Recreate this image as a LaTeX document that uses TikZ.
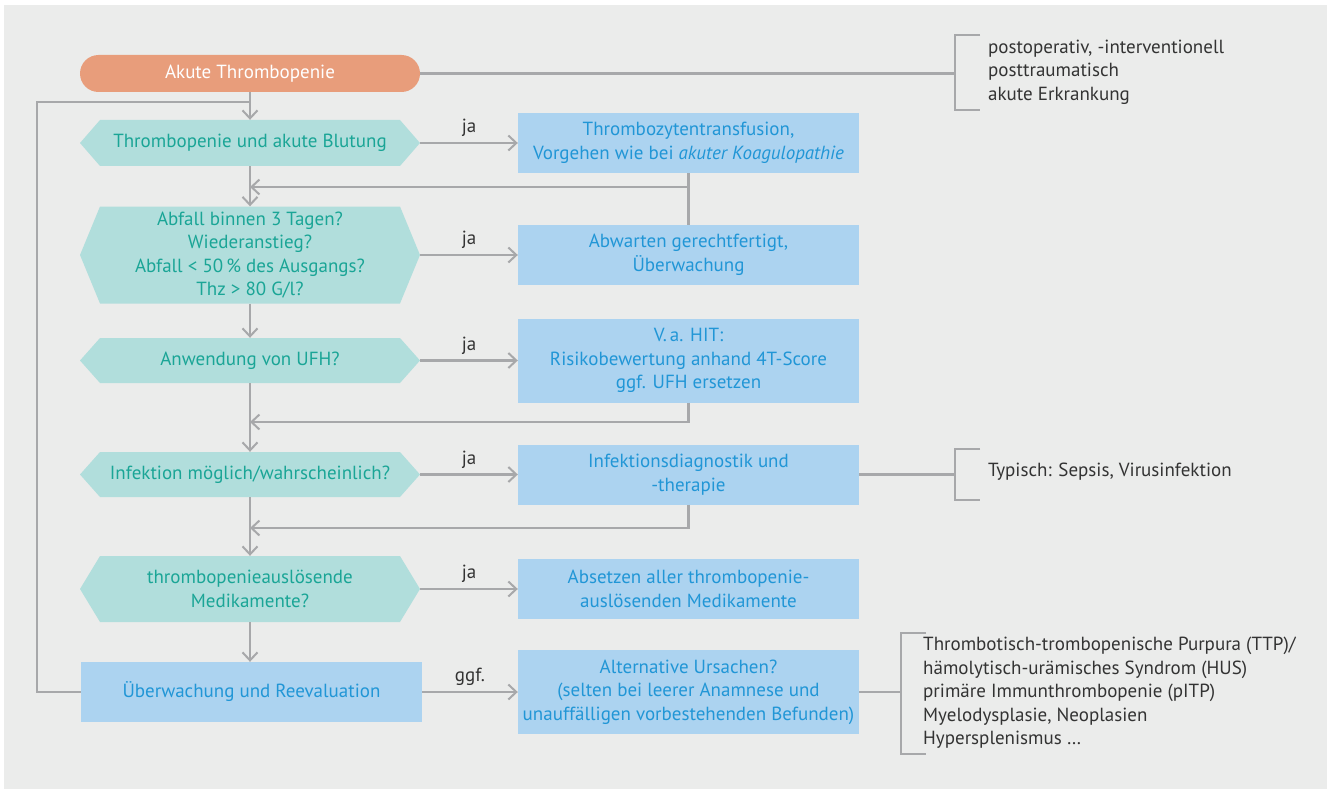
\documentclass[tikz,border=0pt]{standalone}
\usepackage{fontspec}
\setmainfont{PT Sans}
\usetikzlibrary{arrows.meta}
\definecolor{panel}{HTML}{EBECEB}
\definecolor{startfill}{HTML}{E89D7B}
\definecolor{hexfill}{HTML}{B1DEDC}
\definecolor{hextext}{HTML}{1AA596}
\definecolor{boxfill}{HTML}{ACD3F0}
\definecolor{boxtext}{HTML}{2196D6}
\definecolor{linegray}{HTML}{A7A8AA}
\definecolor{plaintext}{HTML}{333333}
\tikzset{
  base/.style={font=\fontsize{19}{23.5}\selectfont, inner sep=0pt, align=center},
  startnode/.style={base, fill=startfill, text=white, rounded corners=18.5pt,
    minimum width=340pt, minimum height=37pt},
  hexnode/.style={base, text=hextext, minimum width=340pt, minimum height=#1,
    path picture={\fill[hexfill]
      ([xshift=20pt]path picture bounding box.north west) --
      ([xshift=-20pt]path picture bounding box.north east) --
      (path picture bounding box.east) --
      ([xshift=-20pt]path picture bounding box.south east) --
      ([xshift=20pt]path picture bounding box.south west) --
      (path picture bounding box.west) -- cycle;}},
  boxnode/.style={base, fill=boxfill, text=boxtext, minimum width=341pt, minimum height=#1},
  note/.style={font=\fontsize{19}{23.5}\selectfont, inner sep=0pt, align=left, text=plaintext, anchor=west},
  lbl/.style={font=\fontsize{19}{23.5}\selectfont, inner sep=0pt, text=plaintext},
  conn/.style={draw=linegray, line width=2.3pt},
  flow/.style={conn, -{Straight Barb[length=8pt,width=15pt,line width=2pt]}},
}
\begin{document}
\begin{tikzpicture}[x=1pt,y=-1pt]
\useasboundingbox (0,0) rectangle (1328,789);
\fill[panel] (4,5) rectangle (1327,789);

% main column
\node[startnode] (start) at (250,73.5) {Akute Thrombopenie};
\node[hexnode=46pt] (q1) at (250,143) {Thrombopenie und akute Blutung};
\node[hexnode=97pt] (q2) at (250,255) {Abfall binnen 3 Tagen?\\Wiederanstieg?\\Abfall < 50\,\% des Ausgangs?\\Thz > 80 G/l?};
\node[hexnode=45pt] (q3) at (250,360.5) {Anwendung von UFH?};
\node[hexnode=45pt] (q4) at (250,474.5) {Infektion möglich/wahrscheinlich?};
\node[hexnode=66pt] (q5) at (250,589) {thrombopenieauslösende\\Medikamente?};
\node[boxnode=60pt] (watch) at (251.5,692) {Überwachung und Reevaluation};

% action column
\node[boxnode=60pt] (a1) at (688.5,143) {Thrombozytentransfusion,\\Vorgehen wie bei \textit{akuter Koagulopathie}};
\node[boxnode=60pt] (a2) at (688.5,255) {Abwarten gerechtfertigt,\\Überwachung};
\node[boxnode=84pt] (a3) at (688.5,360.5) {V.\,a. HIT:\\Risikobewertung anhand 4T-Score\\ggf. UFH ersetzen};
\node[boxnode=60pt] (a4) at (688.5,474.5) {Infektionsdiagnostik und\\-therapie};
\node[boxnode=60pt] (a5) at (688.5,589) {Absetzen aller thrombopenie-\\auslösenden Medikamente};
\node[boxnode=84pt] (a6) at (688.5,692) {Alternative Ursachen?\\(selten bei leerer Anamnese und\\unauffälligen vorbestehenden Befunden)};

% side notes
\node[note] (n1) at (988,72) {postoperativ, -interventionell\\posttraumatisch\\akute Erkrankung};
\node[note] (n2) at (988,472) {Typisch: Sepsis, Virusinfektion};
\node[note] (n3) at (923,693) {Thrombotisch-trombopenische Purpura (TTP)/\\hämolytisch-urämisches Syndrom (HUS)\\primäre Immunthrombopenie (pITP)\\Myelodysplasie, Neoplasien\\Hypersplenismus …};

% bracket junctions and return points
\coordinate (b1) at (955,73.5);
\coordinate (b2) at (955,474.5);
\coordinate (b3) at (901,692);
\coordinate (loop) at (37,102);
\coordinate (m1) at (250,102);
\coordinate (r1) at (250,187);
\coordinate (r3) at (250,422);
\coordinate (r4) at (250,528);

% downward flow
\draw[flow] (start.south) -- (q1.north);
\draw[flow] (q1.south) -- (q2.north);
\draw[flow] (q2.south) -- (q3.north);
\draw[flow] (q3.south) -- (q4.north);
\draw[flow] (q4.south) -- (q5.north);
\draw[flow] (q5.south) -- (q5.south |- watch.north);

% loop back from monitoring
\draw[conn] (watch.west) -| (loop) -- (m1);

% yes branches
\draw[flow] (q1.east) -- node[lbl, above=5pt] (y1) {ja} (a1.west);
\draw[flow] (q2.east) -- node[lbl, above=5pt] (y2) {ja} (a2.west);
\draw[flow] (q3.east) -- node[lbl, above=5pt] (y3) {ja} (a3.west);
\draw[flow] (q4.east) -- node[lbl, above=5pt] (y4) {ja} (a4.west);
\draw[flow] (q5.east) -- node[lbl, above=5pt] (y5) {ja} (a5.west);
\draw[flow] (watch.east) -- node[lbl, above=5pt] (y6) {ggf.} (a6.west);

% returns into the main column
\draw[conn] (a1.south) -- (a2.north);
\draw[flow] (a1.south |- r1) -- (r1);
\draw[flow] (a3.south) |- (r3);
\draw[flow] (a4.south) |- (r4);

% side brackets
\draw[conn] (start.east) -- (b1);
\draw[conn] (980,35) -- (955,35) -- (955,110) -- (980,110);
\draw[conn] (a4.east) -- (b2);
\draw[conn] (980,449) -- (955,449) -- (955,500) -- (980,500);
\draw[conn] (a6.east) -- (b3);
\draw[conn] (926,633) -- (901,633) -- (901,754) -- (926,754);
\end{tikzpicture}
\end{document}
